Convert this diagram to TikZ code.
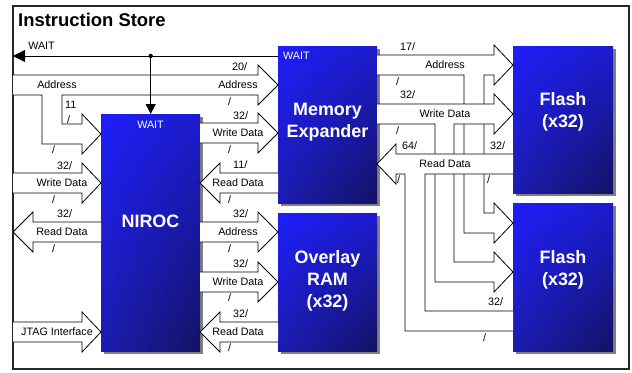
\documentclass[tikz,border=0pt]{standalone}
\usepackage{fontspec}
\setmainfont{Liberation Sans}
\usetikzlibrary{arrows.meta,shadows,shadings}
\definecolor{bul}{RGB}{30,30,250}
\definecolor{bur}{RGB}{28,28,205}
\definecolor{bll}{RGB}{28,28,175}
\definecolor{blr}{RGB}{18,18,100}
\definecolor{shgray}{RGB}{128,128,128}
\tikzset{
  blk/.style={draw=none, inner sep=0pt, anchor=north west,
    upper left=bul, upper right=bur, lower left=bll, lower right=blr,
    drop shadow={shadow xshift=3bp, shadow yshift=-3bp, fill=shgray, opacity=1}},
  bus/.style={draw=black, fill=white, line width=0.8bp, line join=miter},
  busline/.style={draw=black, line width=0.8bp, line join=miter},
  sig/.style={draw=black, line width=0.8bp},
  lbl/.style={font=\fontsize{10.8}{12}\selectfont, inner sep=0pt},
  wid/.style={lbl, anchor=base west},
  blktxt/.style={font=\fontsize{18}{22}\selectfont\bfseries, text=white, align=center, inner sep=0pt},
  wtxt/.style={lbl, text=white},
}
\begin{document}
\begin{tikzpicture}[x=1bp, y=-1bp]
\useasboundingbox (0,0) rectangle (632,372);
% frame
\draw[line width=1.2bp, draw=black!85] (13,6) rectangle (629,369);
\node[font=\fontsize{18.5}{20}\selectfont\bfseries, anchor=base west, inner sep=0pt] (title) at (18,26.7) {Instruction Store};

% blocks
\node[blk, minimum width=99bp, minimum height=237bp] (niroc) at (101,114) {};
\node[blk, minimum width=99bp, minimum height=157bp] (me) at (278,46) {};
\node[blk, minimum width=99bp, minimum height=138bp] (oram) at (278,213) {};
\node[blk, minimum width=100bp, minimum height=147bp] (flashA) at (513,46) {};
\node[blk, minimum width=100bp, minimum height=148bp] (flashB) at (513,203) {};

% left address tree
\draw[bus] (13,75) -- (258,75) -- (258,65) -- (278,85) -- (258,105) -- (258,95) -- (62,95) -- (62,124) -- (82,124) -- (82,114) -- (101,134) -- (82,154) -- (82,144) -- (42,144) -- (42,95) -- (13,95);

% WAIT signal
\coordinate (waitdot) at (150.7,56);
\coordinate (waitsrc) at (me.west |- waitdot);
\coordinate (waitend) at (13,56);
\draw[sig, -{Triangle[length=12bp,width=12bp]}] (waitsrc) -- (waitend);
\fill (waitdot) circle (2.2bp);
\draw[sig, -{Triangle[length=10bp,width=10bp]}] (waitdot) -- (waitdot |- niroc.north);

% left buses of NIROC
\draw[bus] (13,173) -- (82,173) -- (82,163) -- (101,183) -- (82,203) -- (82,193) -- (13,193);
\draw[bus] (101,222) -- (33,222) -- (33,212) -- (13,232) -- (33,252) -- (33,242) -- (101,242);
\draw[bus] (13,322) -- (82,322) -- (82,312) -- (101,332) -- (82,352) -- (82,342) -- (13,342);

% right buses of NIROC
\draw[bus] (200,123) -- (258,123) -- (258,113) -- (278,133) -- (258,153) -- (258,143) -- (200,143);
\draw[bus] (278,173) -- (220,173) -- (220,163) -- (200,183) -- (220,203) -- (220,193) -- (278,193);
\draw[bus] (200,222) -- (258,222) -- (258,212) -- (278,232) -- (258,252) -- (258,242) -- (200,242);
\draw[bus] (200,272) -- (258,272) -- (258,262) -- (278,282) -- (258,302) -- (258,292) -- (200,292);
\draw[bus] (278,322) -- (220,322) -- (220,312) -- (200,332) -- (220,352) -- (220,342) -- (278,342);

% memory expander to flash buses
\draw[bus] (377,55) -- (494,55) -- (494,45) -- (513,65) -- (494,85) -- (494,75) -- (484,75) -- (484,213) -- (494,213) -- (494,203) -- (513,223) -- (494,243) -- (494,233) -- (464,233) -- (464,75) -- (377,75);
\draw[bus] (377,104) -- (494,104) -- (494,94) -- (513,114) -- (494,134) -- (494,124) -- (454,124) -- (454,262) -- (494,262) -- (494,252) -- (513,272) -- (494,292) -- (494,282) -- (435,282) -- (435,124) -- (377,124);
\fill[white] (513,154) -- (396,154) -- (396,144) -- (377,164) -- (396,184) -- (396,174) -- (405,174) -- (405,331) -- (513,331) -- (513,311) -- (425,311) -- (425,174) -- (513,174) -- cycle;
\draw[busline] (513,154) -- (396,154) -- (396,144) -- (377,164) -- (396,184) -- (396,174) -- (405,174) -- (405,331) -- (513,331)
  (513,311) -- (425,311) -- (425,174) -- (513,174);

% block texts
\node[blktxt] (nirocT) at (150.5,221) {NIROC};
\node[blktxt] (meT) at (327.5,122) {Memory\\Expander};
\node[blktxt] (oramT) at (327.5,281) {Overlay\\RAM\\(x32)};
\node[blktxt] (flashAT) at (563,112) {Flash\\(x32)};
\node[blktxt] (flashBT) at (563,270) {Flash\\(x32)};
\node[wtxt] (nirocW) at (150.5,125) {WAIT};
\node[wtxt, anchor=west] (meW) at (283,55.5) {WAIT};

% bus names
\node[lbl] (tWait) at (41.5,45.5) {WAIT};
\node[lbl] (tA1) at (57,85) {Address};
\node[lbl] (tA2) at (238,85) {Address};
\node[lbl] (tW1) at (62,183) {Write Data};
\node[lbl] (tR1) at (62,232) {Read Data};
\node[lbl] (tJ) at (57,332) {JTAG Interface};
\node[lbl] (tW2) at (238,133) {Write Data};
\node[lbl] (tR2) at (238,183) {Read Data};
\node[lbl] (tA3) at (238,232) {Address};
\node[lbl] (tW3) at (238,282) {Write Data};
\node[lbl] (tR3) at (238,332) {Read Data};
\node[lbl] (tA4) at (445,65) {Address};
\node[lbl] (tW4) at (445,114) {Write Data};
\node[lbl] (tR4) at (445,164) {Read Data};

% bus widths
\node[wid] (w1) at (232,70.5) {20/};
\node[wid] (w2) at (233,119) {32/};
\node[wid] (w3) at (233,168.5) {11/};
\node[wid] (w4) at (233,217.5) {32/};
\node[wid] (w5) at (233,267) {32/};
\node[wid] (w6) at (233,317) {32/};
\node[wid] (w7) at (57,169) {32/};
\node[wid] (w8) at (57,217.5) {32/};
\node[wid] (w9) at (65,108) {11};
\node[wid] (w9s) at (67,123) {/};
\node[wid] (w10) at (400,50) {17/};
\node[wid] (w11) at (400,98.5) {32/};
\node[wid] (w12) at (402,149.5) {64/};
\node[wid] (w13) at (490,149.5) {32/};
\node[wid] (w14) at (488,305) {32/};

% lower slashes
\node[wid] (s1) at (228,105) {/};
\node[wid] (s2) at (52,153) {/};
\node[wid] (s3) at (52,203) {/};
\node[wid] (s4) at (52,252) {/};
\node[wid] (s5) at (228,153) {/};
\node[wid] (s6) at (228,203) {/};
\node[wid] (s7) at (228,252) {/};
\node[wid] (s8) at (228,301) {/};
\node[wid] (s9) at (228,351) {/};
\node[wid] (s10) at (396,85) {/};
\node[wid] (s11) at (396,134) {/};
\node[wid] (s12) at (397,183) {/};
\node[wid] (s13) at (487,183) {/};
\node[wid] (s14) at (483,341) {/};
\end{tikzpicture}
\end{document}
